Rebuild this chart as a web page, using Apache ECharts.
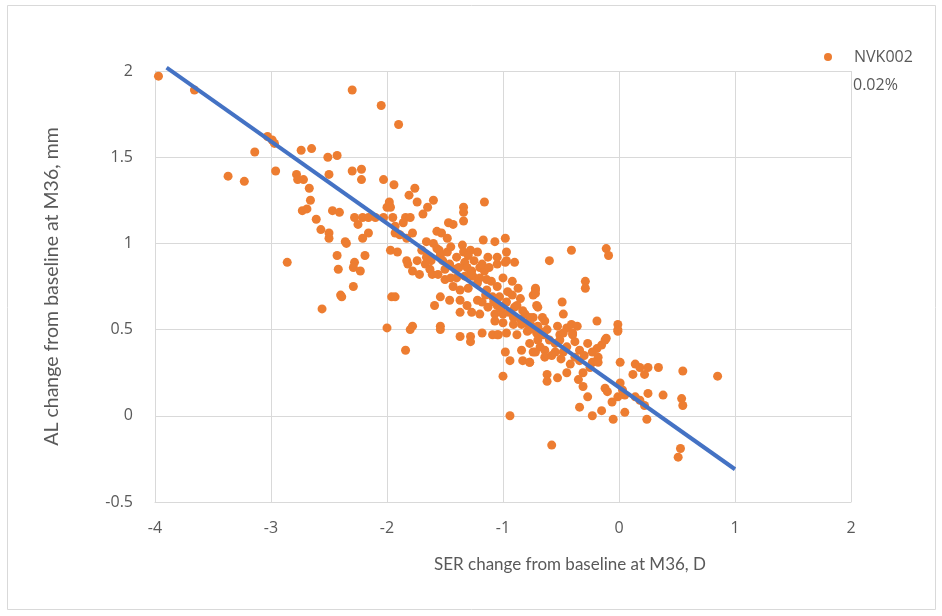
<!DOCTYPE html>
<html>
<head>
<meta charset="utf-8">
<script src="https://cdn.jsdelivr.net/npm/echarts@6/dist/echarts.min.js"></script>
<style>
html,body{margin:0;padding:0;background:#fff;}
#chart{width:942px;height:616px;}
</style>
</head>
<body>
<div id="chart"></div>
<script>
// SER change (D) and AL change (mm) per subject, NVK002 0.02%
const serChange = [
-3.97,-3.66,-3.03,-2.99,-2.97,-3.14,-2.74,-2.65,-2.51,-2.43,-3.37,-3.23,-2.96,-2.78,-2.77,-2.72,-2.67,-2.66,-2.50,-2.73,-2.47,-2.41,-2.30,-2.05,-1.90,-2.30,-2.22,-2.22,-2.03,-1.94,-1.76,-1.81,-1.74,-1.60,-1.65,-1.98,-1.98,-2.00,-1.34,-1.16,
-2.69,-2.61,-2.57,-2.50,-2.50,-2.35,-2.43,-2.86,-2.42,-2.40,-2.56,
-1.97,-1.34,-2.28,-2.25,-2.21,-2.16,-2.10,-2.03,-1.95,-1.84,-1.80,-1.69,-1.93,-1.86,-1.47,-1.43,-1.34,-2.36,-2.21,-2.16,-1.93,-1.89,-1.83,-1.78,-1.57,-1.53,-1.48,-1.66,-1.60,-1.17,-1.07,-0.98,-1.97,-1.91,-1.70,-1.57,-1.54,-1.48,-1.35,-1.34,-1.28,-1.22,-0.97,-0.97,-2.28,-2.29,-2.23,-2.19,-1.83,-1.82,-1.74,-1.66,-1.67,-1.63,-1.52,-1.46,-1.41,-1.40,-1.33,-1.31,-1.27,-1.20,-1.16,-1.13,-1.05,-0.98,-0.90,-1.78,-1.72,-1.61,-1.56,-1.50,-1.40,-1.33,-1.26,-1.22,-1.14,-1.05,-0.92,-2.29,-2.39,-1.96,-1.93,-1.43,-1.37,-1.30,-1.54,-1.46,-1.14,-1.09,-1.03,-0.96,-0.87,-0.72,-0.74,-1.59,-1.37,-1.31,-1.22,-1.18,-1.13,-1.05,-0.97,-0.90,-0.83,-1.37,-1.27,-1.20,-1.07,-1.00,-0.91,-0.81,-0.74,-1.07,-1.00,-0.91,-0.84,-0.75,-2.00,-1.78,-1.54,-1.37,-1.28,-1.18,-1.05,-0.97,-0.88,-0.79,
-1.80,-1.54,-1.28,-1.09,-1.04,-1.84,-0.98,-0.94,-0.84,-0.83,-0.77,-0.74,-1.00,-0.94,
-0.41,-0.11,-0.09,-0.60,-0.29,-0.29,-0.72,-0.72,-0.71,-0.70,-0.49,-0.48,-0.77,-0.66,-0.64,-0.19,-0.53,-0.45,-0.41,-0.36,-0.01,-0.01,-0.77,-0.68,-0.51,-0.40,-0.11,
-0.71,-0.48,-0.40,-0.01,-0.77,-0.68,-0.64,-0.72,-0.64,-0.51,-0.55,-0.48,-0.38,-0.34,-0.38,-0.34,-0.27,-0.19,-0.15,-0.12,-0.23,-0.18,-0.23,-0.18,-0.77,0.01,0.14,0.18,0.25,0.34,0.55,0.85,-0.62,-0.62,-0.53,-0.45,-0.31,-0.35,-0.31,-0.27,-0.12,-0.10,0.01,0.03,0.05,0.12,0.22,0.14,0.18,0.22,0.25,0.38,0.54,0.55,-0.06,-0.01,-0.34,-0.15,0.05,-0.23,-0.05,0.24,-0.58,0.53,0.51,
-1.30,-1.25,-1.18,-1.12,-1.28,-1.20,-1.10,-1.15,-1.08,-1.02,-0.95,-0.88,-0.85,-0.78,-0.70,-0.65,-0.60,-0.55,-0.70,-0.62,-0.58,-0.50,-0.45,-0.42,-0.30,-0.25,-1.45,-1.50,-1.38,-1.55,-1.62,-1.45,-1.05,-1.00,-0.92,-0.85
];
const alChange = [
1.97,1.89,1.62,1.60,1.58,1.53,1.54,1.55,1.50,1.51,1.39,1.36,1.42,1.40,1.37,1.37,1.32,1.25,1.40,1.19,1.19,1.18,1.89,1.80,1.69,1.42,1.43,1.37,1.37,1.34,1.32,1.28,1.24,1.25,1.21,1.24,1.22,1.21,1.21,1.24,
1.20,1.14,1.08,1.06,1.03,1.00,0.93,0.89,0.85,0.70,0.62,
1.21,1.18,1.15,1.11,1.15,1.15,1.15,1.15,1.15,1.15,1.15,1.17,1.10,1.12,1.12,1.11,1.13,1.01,1.03,1.06,1.06,1.05,1.03,1.06,1.07,1.06,1.03,1.01,1.00,1.02,1.01,1.03,0.96,0.95,0.96,0.97,0.93,0.95,0.99,0.95,0.96,0.95,0.95,0.90,0.89,0.86,0.84,0.93,0.90,0.88,0.90,0.92,0.88,0.85,0.90,0.88,0.85,0.92,0.89,0.86,0.84,0.86,0.84,0.92,0.88,0.89,0.89,0.84,0.82,0.82,0.82,0.79,0.80,0.81,0.81,0.77,0.79,0.75,0.78,0.75,0.69,0.69,0.69,0.75,0.73,0.74,0.69,0.67,0.73,0.69,0.69,0.72,0.74,0.73,0.70,0.64,0.67,0.64,0.67,0.66,0.63,0.64,0.66,0.63,0.61,0.60,0.60,0.59,0.59,0.59,0.57,0.59,0.57,0.55,0.54,0.53,0.53,0.52,0.51,0.52,0.52,0.46,0.46,0.48,0.47,0.48,0.47,0.49,
0.50,0.50,0.43,0.47,0.47,0.38,0.37,0.32,0.38,0.32,0.31,0.37,0.23,0.00,
0.96,0.97,0.93,0.90,0.78,0.74,0.74,0.71,0.64,0.63,0.66,0.59,0.57,0.57,0.55,0.55,0.52,0.51,0.53,0.52,0.53,0.50,0.50,0.49,0.47,0.47,0.45,
0.48,0.48,0.48,0.49,0.42,0.40,0.38,0.37,0.34,0.44,0.37,0.37,0.43,0.38,0.34,0.32,0.42,0.39,0.41,0.44,0.37,0.34,0.31,0.31,0.31,0.31,0.30,0.28,0.28,0.28,0.26,0.23,0.24,0.20,0.22,0.25,0.25,0.21,0.17,0.11,0.16,0.14,0.19,0.15,0.12,0.24,0.24,0.11,0.09,0.06,0.13,0.12,0.10,0.06,0.08,0.11,0.05,0.03,0.02,0.00,-0.02,-0.02,-0.17,-0.19,-0.24,
0.93,0.90,0.88,0.86,0.82,0.80,0.78,0.70,0.66,0.62,0.60,0.64,0.56,0.53,0.52,0.47,0.44,0.42,0.44,0.50,0.35,0.33,0.40,0.30,0.35,0.28,0.80,0.85,0.86,0.96,0.90,0.98,0.92,0.80,0.70,0.68
];
// Linear trendline end points (SER, AL)
const trendX = [-3.9, 1.0];
const trendY = [2.02, -0.31];
// Axis ticks
const xTicks = [-4, -3, -2, -1, 0, 1, 2];
const yTicks = [-0.5, 0, 0.5, 1, 1.5, 2];
const seriesName = 'NVK002';
const seriesSub = '0.02%';
const xTitle = 'SER change from baseline at M36, D';
const yTitle = 'AL change from baseline at M36, mm';

const points = serChange.map((x, i) => [x, alChange[i]]);
const trend = trendX.map((x, i) => [x, trendY[i]]);

const chart = echarts.init(document.getElementById('chart'), null, {renderer: 'canvas'});
const gray = '#595959';
const gridColor = '#d9d9d9';
const tickFont = 'Open Sans, DejaVu Sans, sans-serif';
const titleFont = 'Lato, Open Sans, sans-serif';

chart.setOption({
  animation: false,
  backgroundColor: '#fff',
  graphic: [
    {type: 'rect', shape: {x: 7.5, y: 5.5, width: 928, height: 604}, style: {fill: 'none', stroke: gridColor, lineWidth: 1}, silent: true, z: -10},
    {type: 'text', left: 853, top: 77, style: {text: seriesSub, fill: gray, font: '16px ' + tickFont}}
  ],
  grid: {left: 155, right: 91, top: 71, bottom: 114, containLabel: false},
  legend: {
    data: [{name: seriesName, icon: 'circle'}],
    left: 819, top: 44,
    itemWidth: 8, itemHeight: 8,
    textStyle: {color: gray, fontSize: 16, fontFamily: tickFont, padding: [0, 0, 0, 17]},
    selectedMode: false
  },
  xAxis: {
    type: 'value', min: xTicks[0], max: xTicks[xTicks.length - 1], interval: 1,
    name: xTitle, nameLocation: 'middle', nameGap: 54,
    nameTextStyle: {color: gray, fontSize: 17, fontFamily: titleFont, padding: [0, 0, 0, 134]},
    axisLine: {onZero: false, lineStyle: {color: gridColor, width: 1}},
    axisTick: {show: false},
    axisLabel: {color: gray, fontSize: 16, fontFamily: tickFont, margin: 18},
    splitLine: {show: true, lineStyle: {color: gridColor, width: 1}}
  },
  yAxis: {
    type: 'value', min: yTicks[0], max: yTicks[yTicks.length - 1], interval: 0.5,
    name: yTitle, nameLocation: 'middle', nameGap: 93,
    nameTextStyle: {color: gray, fontSize: 19.5, fontFamily: titleFont, padding: [0, 0, 0, 0]},
    axisLine: {show: true, onZero: false, lineStyle: {color: gridColor, width: 1}},
    axisTick: {show: false},
    axisLabel: {color: gray, fontSize: 16, fontFamily: tickFont, margin: 22},
    splitLine: {show: true, lineStyle: {color: gridColor, width: 1}}
  },
  series: [
    {
      name: seriesName, type: 'scatter', data: points,
      symbol: 'circle', symbolSize: 9,
      itemStyle: {color: '#ED7D31', opacity: 1},
      z: 2
    },
    {
      name: 'Linear (NVK002)', type: 'line', data: trend,
      showSymbol: false, symbol: 'none', clip: false,
      lineStyle: {color: '#4472C4', width: 4},
      z: 3
    }
  ]
});
</script>
</body>
</html>
